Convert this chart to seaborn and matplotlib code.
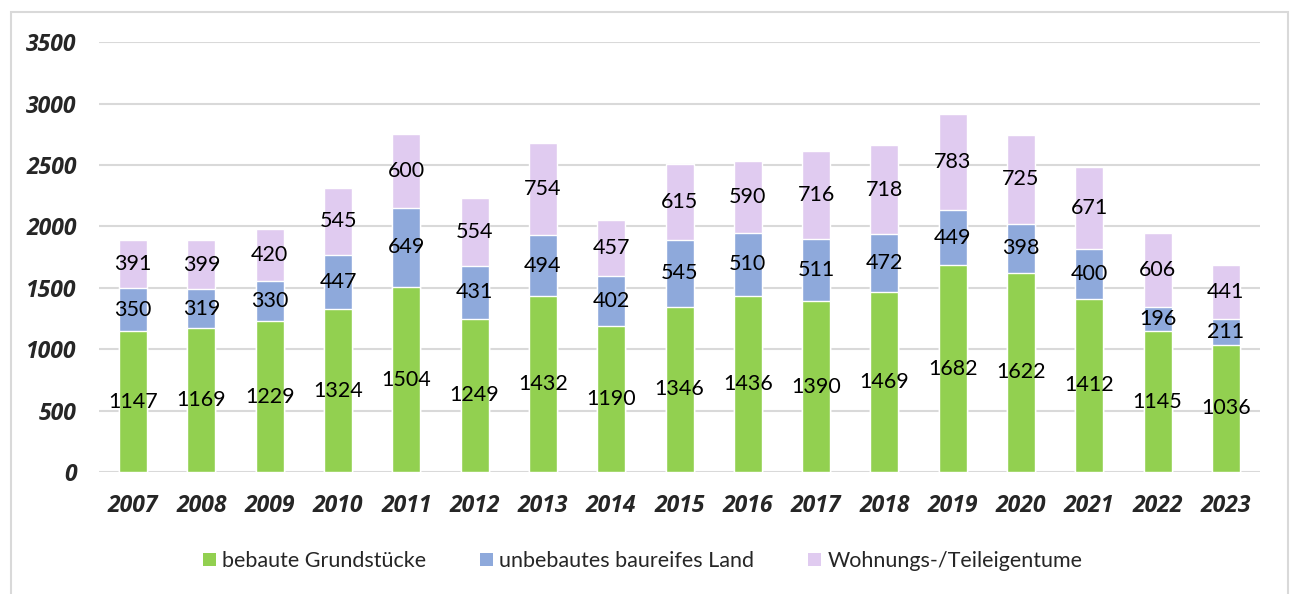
import numpy as np
import pandas as pd
import matplotlib.pyplot as plt
import seaborn as sns
from matplotlib.patches import Rectangle, Patch

# === Daten ===
jahre = ["2007", "2008", "2009", "2010", "2011", "2012", "2013", "2014", "2015",
         "2016", "2017", "2018", "2019", "2020", "2021", "2022", "2023"]
bebaut = [1147, 1169, 1229, 1324, 1504, 1249, 1432, 1190, 1346, 1436, 1390, 1469, 1682, 1622, 1412, 1145, 1036]
unbebaut = [350, 319, 330, 447, 649, 431, 494, 402, 545, 510, 511, 472, 449, 398, 400, 196, 211]
wohnung = [391, 399, 420, 545, 600, 554, 754, 457, 615, 590, 716, 718, 783, 725, 671, 606, 441]

namen = ["bebaute Grundstücke", "unbebautes baureifes Land", "Wohnungs-/Teileigentume"]
farben = ["#92D050", "#8EA9DB", "#E0CBF0"]

df = pd.DataFrame({"Jahr": jahre, "bebaut": bebaut, "unbebaut": unbebaut, "wohnung": wohnung})
df["stufe1"] = df["bebaut"]
df["stufe2"] = df["bebaut"] + df["unbebaut"]
df["stufe3"] = df["stufe2"] + df["wohnung"]

sns.set_style("white")
plt.rcParams["font.family"] = ["Lato", "DejaVu Sans"]

fig = plt.figure(figsize=(12.93, 5.94), dpi=100)
ax = fig.add_axes([0.0766, 0.2054, 0.8979, 0.7236])

# gestapelte Balken: von oben nach unten überlagert
for spalte, farbe in zip(["stufe3", "stufe2", "stufe1"], farben[::-1]):
    sns.barplot(data=df, x="Jahr", y=spalte, color=farbe, width=0.41,
                saturation=1, ax=ax, zorder=3)

# Beschriftungen in der Mitte der Segmente
for i in range(len(jahre)):
    unten = 0
    for werte in (bebaut, unbebaut, wohnung):
        v = werte[i]
        ax.text(i, unten + v / 2, str(v), ha="center", va="center",
                fontsize=15.5, color="black", zorder=4)
        unten += v

ax.set_ylim(0, 3500)
ax.set_xlim(-0.5, len(jahre) - 0.5)
ax.set_yticks(np.arange(0, 3501, 500))
ax.yaxis.grid(True, color="#D9D9D9", linewidth=1.5, zorder=0)
ax.set_axisbelow(True)
for s in ax.spines.values():
    s.set_visible(False)
ax.set_xlabel("")
ax.set_ylabel("")
ax.tick_params(axis="y", length=0, pad=16)
ax.tick_params(axis="x", length=0, pad=16)
for lab in ax.get_xticklabels() + ax.get_yticklabels():
    lab.set_family(["Open Sans", "DejaVu Sans"])
    lab.set_fontsize(16.5)
    lab.set_fontweight("bold")
    lab.set_fontstyle("italic")

# Legende
griffe = [Patch(facecolor=f, edgecolor="none") for f in farben]
fig.legend(griffe, namen, loc="center", bbox_to_anchor=(0.497, 1 - 561 / 594), ncol=3,
           frameon=False, fontsize=15.5, handlelength=0.6, handleheight=0.6,
           handletextpad=0.3, columnspacing=2.5)

# Rahmen um das Diagramm
fig.patches.append(Rectangle((11 / 1293, -0.01), (1288 - 11) / 1293, 1 - 12 / 594 + 0.01,
                             transform=fig.transFigure, fill=False,
                             edgecolor="#D9D9D9", linewidth=1.5))

fig.savefig("out.png", dpi=100)
plt.close()
